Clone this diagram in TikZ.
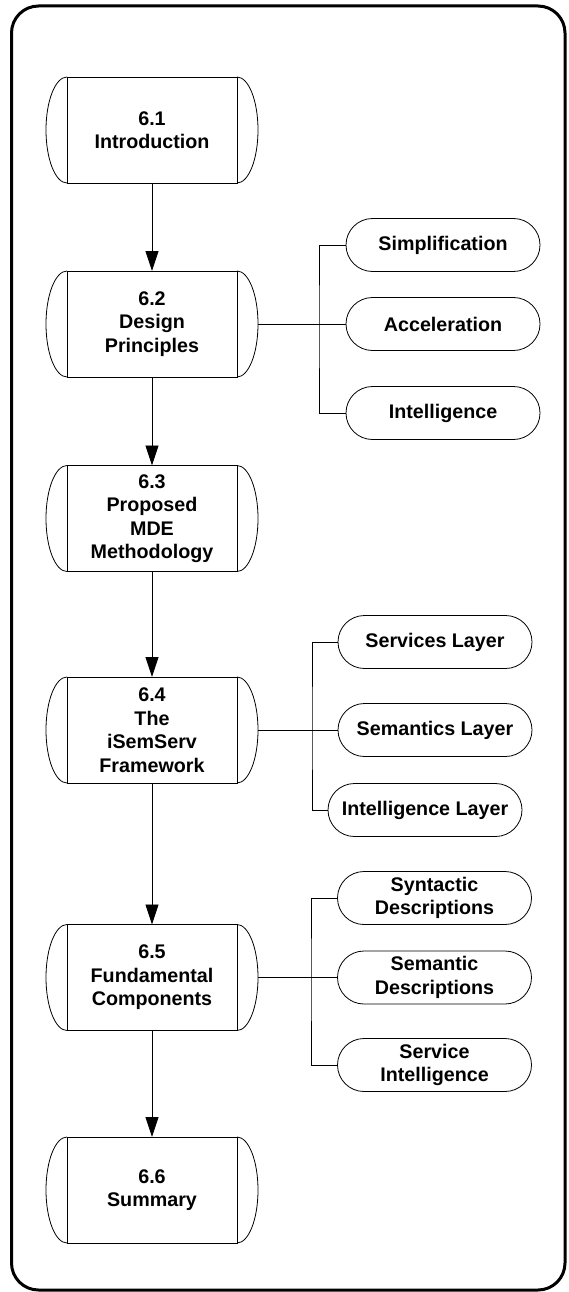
\documentclass[tikz,border=0pt]{standalone}
\usepackage{fontspec}
\setmainfont{Liberation Sans}
\usetikzlibrary{arrows.meta}
\begin{document}
\begin{tikzpicture}[x=1pt,y=-1pt,
  every node/.style={font=\fontsize{19.7}{23.5}\selectfont\bfseries, align=center, inner sep=0pt, outer sep=0pt},
  secbox/.style={draw, line width=0.8pt, minimum width=170pt, minimum height=106pt},
  topic/.style={draw, line width=0.8pt, minimum width=194pt, minimum height=53pt, rounded corners=26.5pt},
  link/.style={line width=0.8pt},
  flow/.style={line width=0.8pt, -{Triangle[length=20pt,width=13pt]}},
]
\useasboundingbox (0,0) rectangle (568,1292);
% outer frame
\draw[line width=3pt, rounded corners=27pt] (11.5,6) rectangle (565,1290);

% chapter sections
\node[secbox] (s1) at (152,130)   {6.1\\Introduction};
\node[secbox] (s2) at (152,324)   {6.2\\Design\\Principles};
\node[secbox] (s3) at (152,518.5) {6.3\\Proposed\\MDE\\Methodology};
\node[secbox] (s4) at (152,730)   {6.4\\The\\iSemServ\\Framework};
\node[secbox] (s5) at (152,977.5) {6.5\\Fundamental\\Components};
\node[secbox] (s6) at (152,1190)  {6.6\\Summary};

% curved side caps of the section boxes
\foreach \s in {s1,s2,s3,s4,s5,s6} {
  \draw[link] (\s.north west) arc[start angle=90, end angle=270, x radius=21pt, y radius=53pt];
  \draw[link] (\s.north east) arc[start angle=90, end angle=-90, x radius=21pt, y radius=53pt];
}

% sequence of sections
\draw[flow] (s1) -- (s2);
\draw[flow] (s2) -- (s3);
\draw[flow] (s3) -- (s4);
\draw[flow] (s4) -- (s5);
\draw[flow] (s5) -- (s6);

% design principles
\node[topic] (p1) at (443,245) {Simplification};
\node[topic] (p2) at (443,324) {Acceleration};
\node[topic] (p3) at (443,413) {Intelligence};
\coordinate (j2) at (319,324);
\draw[link] ([xshift=21pt]s2.east) -- (p2.west);
\draw[link] (p1.west) -| (j2) |- (p3.west);

% framework layers
\node[topic] (l1) at (435,642) {Services Layer};
\node[topic] (l2) at (435,730) {Semantics Layer};
\node[topic] (l3) at (425,810) {Intelligence Layer};
\coordinate (j4) at (312,730);
\draw[link] ([xshift=21pt]s4.east) -- (l2.west);
\draw[link] (l1.west) -| (j4) |- (l3.west);

% fundamental components
\node[topic] (c1) at (434.5,898)   {Syntactic\\Descriptions};
\node[topic] (c2) at (434.5,977.5) {Semantic\\Descriptions};
\node[topic] (c3) at (434.5,1065)  {Service\\Intelligence};
\coordinate (j5) at (311,977.5);
\draw[link] ([xshift=21pt]s5.east) -- (c2.west);
\draw[link] (c1.west) -| (j5) |- (c3.west);
\end{tikzpicture}
\end{document}
